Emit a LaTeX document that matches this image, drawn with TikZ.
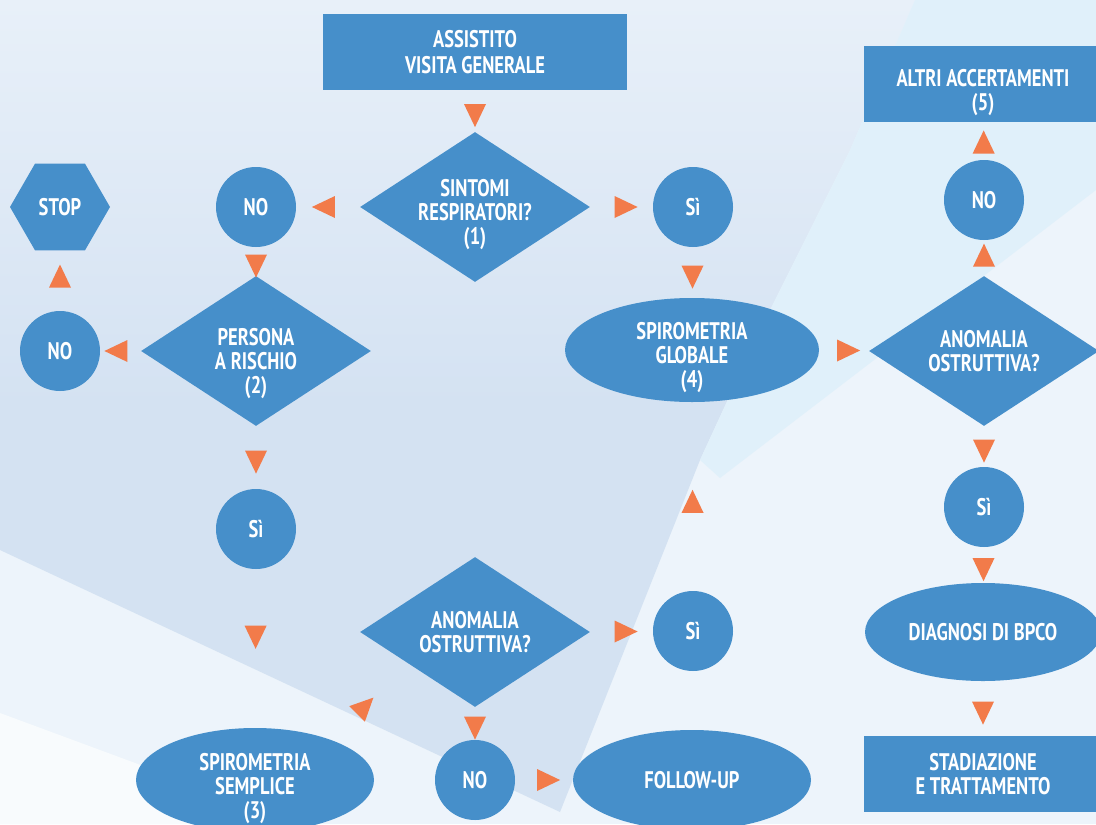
\documentclass[tikz,border=0pt]{standalone}
\usepackage{fontspec}
\setmainfont[FakeStretch=0.77]{PT Sans}
\usepackage{xcolor}
\usetikzlibrary{shapes.geometric,calc}

\definecolor{flowblue}{HTML}{468FCA}
\definecolor{floworange}{HTML}{F27B4A}
\definecolor{bgbase}{HTML}{EDF4FB}
\definecolor{bgpale}{HTML}{E8F0F9}
\definecolor{bgmid}{HTML}{D4E2F2}
\definecolor{bgcyan}{HTML}{E0F0FA}
\definecolor{bgwhite}{HTML}{F8FBFD}

\tikzset{
  flowtext/.style={text=white, align=center, inner sep=0pt,
    font=\bfseries\fontsize{12}{12}\selectfont},
  flow/.style={flowtext, fill=flowblue},
  blockbox/.style={flow, rectangle, minimum height=38pt},
  question/.style={flow, diamond, aspect=1.53, minimum width=115pt, minimum height=75pt},
  answer/.style={flow, circle, minimum size=40pt},
  action/.style={flow, ellipse, minimum width=119pt, minimum height=52pt},
  stopsign/.style={flow, regular polygon, regular polygon sides=6, minimum size=50pt},
  tri/.style={isosceles triangle, isosceles triangle apex angle=51, fill=floworange,
    inner sep=0pt, minimum height=10.5pt, minimum width=11pt, rotate=#1},
}

\begin{document}
\begin{tikzpicture}[x=0.5pt,y=-0.5pt]
            \useasboundingbox (0,0) rectangle (1096,824);
            \clip (0,0) rectangle (1096,824);

            % Background
            \fill[bgbase] (0,0) rectangle (1096,824);
            \shade[top color=bgpale, bottom color=bgmid, middle color=bgmid]
              (0,0) -- (915,0) -- (850,150) -- (760,330) -- (700,460) -- (560,812) -- (0,550) -- cycle;
            \fill[bgcyan] (915,0) -- (1096,0) -- (1096,190) -- (720,478) -- (700,460)
              -- (760,330) -- (850,150) -- cycle;
            \fill[bgwhite] (0,713) -- (300,824) -- (0,824) -- cycle;

            % Left branch
            \node[blockbox, minimum width=152pt] (visit) at (475,52) {ASSISTITO\\[1pt]VISITA GENERALE};
            \node[question] (sintomi) at (475,207) {};
            \node[flowtext] (sintomi-text) at ([yshift=-4pt]sintomi.center) {SINTOMI\\RESPIRATORI?\\(1)};
            \node[answer] (no1) at (256,207) {NO};
            \node[stopsign] (stop) at (60,207) {STOP};
            \node[question] (rischio) at (256,351) {};
            \node[flowtext] (rischio-text) at ([yshift=-6.5pt]rischio.center) {PERSONA\\A RISCHIO\\(2)};
            \node[answer] (no2) at (60,351) {NO};
            \node[answer] (si3) at (256,529) {Sì};
            \node[action] (semplice) at (255,780) {};
            \node[flowtext] (semplice-text) at ([yshift=-4.5pt]semplice.center) {SPIROMETRIA\\SEMPLICE\\(3)};
            \node[question] (anom1) at (475,632) {ANOMALIA\\OSTRUTTIVA?};
            \node[answer] (no4) at (475,780) {NO};
            \node[answer] (si4) at (693,631) {Sì};
            \node[action, minimum height=50pt] (follow) at (692,780) {FOLLOW-UP};

            % Right branch
            \node[answer] (si1) at (693,207) {Sì};
            \node[action, minimum width=127pt] (globale) at (692,350) {};
            \node[flowtext] (globale-text) at ([yshift=-4pt]globale.center) {SPIROMETRIA\\GLOBALE\\(4)};
            \node[question] (anom2) at (984,351) {ANOMALIA\\OSTRUTTIVA?};
            \node[answer] (no3) at (984,200) {NO};
            \node[blockbox, minimum width=119pt] (altri) at (983,84) {};
            \node[flowtext] (altri-text) at ([yshift=-4.5pt]altri.center) {ALTRI ACCERTAMENTI\\(5)};
            \node[answer] (si2) at (984,507) {Sì};
            \node[action, minimum width=118pt, minimum height=49pt] (bpco) at (983,632) {DIAGNOSI DI BPCO};
            \node[blockbox, minimum width=119pt] (stadio) at (983,774) {STADIAZIONE\\E TRATTAMENTO};

            % Arrow heads
            \node[tri=-90] (a1) at ($(visit.south)!0.5!(sintomi.north)$) {};
            \node[tri=180] (a2) at ($(sintomi.west)!0.5!(no1.east)$) {};
            \node[tri=0] (a3) at ($(sintomi.east)!0.5!(si1.west)$) {};
            \node[tri=-90] (a4) at ($(no1.south)!0.5!(rischio.north)$) {};
            \node[tri=180] (a5) at ($(rischio.west)!0.5!(no2.east)$) {};
            \node[tri=90] (a6) at ($(no2.north)!0.5!(stop.south)$) {};
            \node[tri=-90] (a7) at ($(rischio.south)!0.5!(si3.north)$) {};
            \node[tri=-90] (a8) at ($(si3.south)!0.4!(semplice.north)$) {};
            \node[tri=45] (a9) at (362,709) {};
            \node[tri=0] (a10) at ($(anom1.east)!0.5!(si4.west)$) {};
            \node[tri=-90] (a11) at ($(anom1.south)!0.5!(no4.north)$) {};
            \node[tri=0] (a12) at ($(no4.east)!0.5!(follow.west)$) {};
            \node[tri=90] (a13) at ($(si4.north)!0.45!(globale.south)$) {};
            \node[tri=-90] (a14) at ($(si1.south)!0.5!(globale.north)$) {};
            \node[tri=0] (a15) at ($(globale.east)!0.5!(anom2.west)$) {};
            \node[tri=90] (a16) at ($(anom2.north)!0.45!(no3.south)$) {};
            \node[tri=90] (a17) at ($(no3.north)!0.35!(altri.south)$) {};
            \node[tri=-90] (a18) at ($(anom2.south)!0.5!(si2.north)$) {};
            \node[tri=-90] (a19) at ($(si2.south)!0.5!(bpco.north)$) {};
            \node[tri=-90] (a20) at ($(bpco.south)!0.5!(stadio.north)$) {};
        \end{tikzpicture}
\end{document}
